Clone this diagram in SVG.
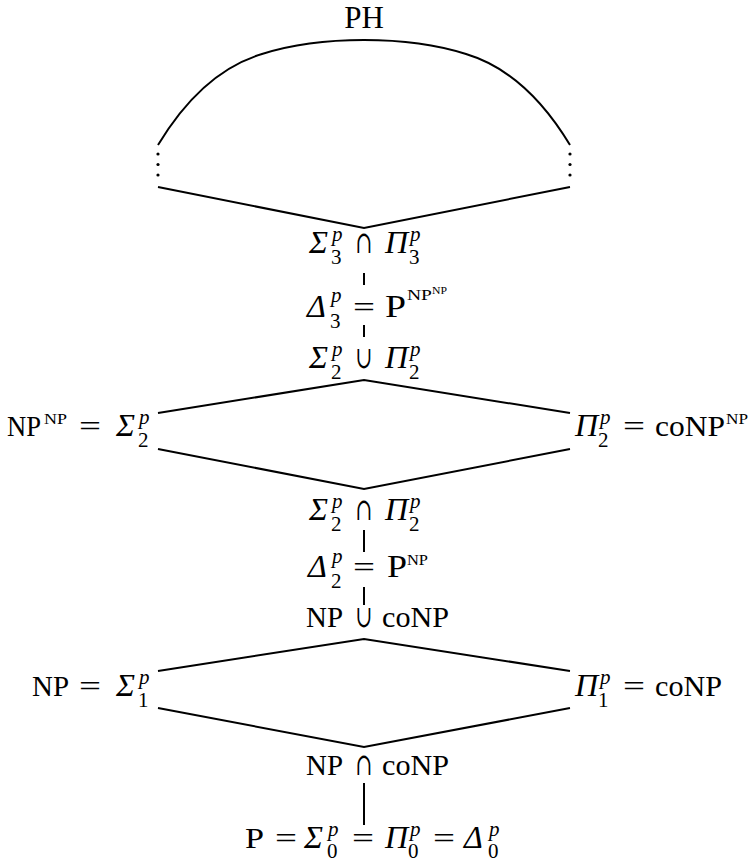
<svg xmlns="http://www.w3.org/2000/svg" width="752" height="862" viewBox="0 0 752 862">
<style>
text{font-family:"Liberation Serif","DejaVu Serif",serif;fill:#000}
.t{font-size:30px}
.b{font-size:32px}
.g{font-size:32px;font-style:italic}
.s{font-size:21px;font-style:italic}
.d{font-size:21px}
.e{font-size:30px}
.o{font-size:31px;font-family:"DejaVu Serif","DejaVu Sans",serif}
.sn{font-size:15px}
.ssn{font-size:10px}
.ln{fill:none;stroke:#000;stroke-width:2}
</style>
<rect width="752" height="862" fill="#fff"/>
<g id="connectors" class="ln">
<path d="M158,145 Q202,72 262,54 Q306,40 364,40 Q422,40 466,54 Q526,72 570,145"/>
<polyline points="158,187 364,228 570,187"/>
<line x1="364" y1="273" x2="364" y2="285"/>
<line x1="364" y1="325" x2="364" y2="337"/>
<polyline points="158,413 364,380 570,413"/>
<polyline points="158,449 364,489 570,449"/>
<line x1="364" y1="530" x2="364" y2="552"/>
<line x1="364" y1="587" x2="364" y2="605"/>
<polyline points="158,671 364,639 570,671"/>
<polyline points="158,708 364,747 570,708"/>
<line x1="364" y1="783" x2="364" y2="825"/>
</g>
<g id="dots" fill="#000">
<circle cx="158" cy="154" r="1.6"/><circle cx="158" cy="164.5" r="1.6"/><circle cx="158" cy="175" r="1.6"/>
<circle cx="570" cy="154" r="1.6"/><circle cx="570" cy="164.5" r="1.6"/><circle cx="570" cy="175" r="1.6"/>
</g>
<g id="ph"><text x="364" y="28" style="font-size:31px;text-anchor:middle">PH</text></g>
<g id="sigma3-cap-pi3">
<text class="g" x="309" y="253">Σ</text><text class="s" x="332" y="241">p</text><text class="d" x="331" y="264">3</text>
<text class="o" x="355.5" y="253" textLength="17" lengthAdjust="spacingAndGlyphs">∩</text>
<text class="g" x="385" y="253">Π</text><text class="s" x="410" y="241">p</text><text class="d" x="409" y="264">3</text>
</g>
<g id="delta3">
<text class="g" x="307" y="317">Δ</text><text class="s" x="331" y="302">p</text><text class="d" x="330" y="328">3</text>
<text class="e" x="353" y="317" textLength="22" lengthAdjust="spacingAndGlyphs">=</text>
<text class="b" x="385" y="317" textLength="21" lengthAdjust="spacingAndGlyphs">P</text>
<text class="sn" x="407" y="300" textLength="25" lengthAdjust="spacingAndGlyphs">NP</text>
<text class="ssn" x="432" y="294" textLength="15" lengthAdjust="spacingAndGlyphs">NP</text>
</g>
<g id="sigma2-cup-pi2">
<text class="g" x="309" y="368">Σ</text><text class="s" x="332" y="356">p</text><text class="d" x="331" y="379">2</text>
<text class="o" x="355.5" y="368" textLength="17" lengthAdjust="spacingAndGlyphs">∪</text>
<text class="g" x="385" y="368">Π</text><text class="s" x="410" y="356">p</text><text class="d" x="409" y="379">2</text>
</g>
<g id="np-np">
<text class="t" x="7" y="436" textLength="34" lengthAdjust="spacingAndGlyphs">NP</text>
<text class="sn" x="44" y="424" textLength="23" lengthAdjust="spacingAndGlyphs">NP</text>
<text class="e" x="79" y="436" textLength="22" lengthAdjust="spacingAndGlyphs">=</text>
<text class="g" x="116" y="436">Σ</text><text class="s" x="139" y="424">p</text><text class="d" x="138" y="447">2</text>
</g>
<g id="conp-np">
<text class="g" x="575" y="436">Π</text><text class="s" x="600" y="424">p</text><text class="d" x="598" y="447">2</text>
<text class="e" x="623" y="436" textLength="22" lengthAdjust="spacingAndGlyphs">=</text>
<text class="t" x="655" y="436" textLength="70" lengthAdjust="spacingAndGlyphs">coNP</text>
<text class="sn" x="726" y="424" textLength="22" lengthAdjust="spacingAndGlyphs">NP</text>
</g>
<g id="sigma2-cap-pi2">
<text class="g" x="309" y="520">Σ</text><text class="s" x="332" y="508">p</text><text class="d" x="331" y="531">2</text>
<text class="o" x="355.5" y="520" textLength="17" lengthAdjust="spacingAndGlyphs">∩</text>
<text class="g" x="385" y="520">Π</text><text class="s" x="410" y="508">p</text><text class="d" x="409" y="531">2</text>
</g>
<g id="delta2">
<text class="g" x="308" y="577">Δ</text><text class="s" x="332" y="563">p</text><text class="d" x="331" y="588">2</text>
<text class="e" x="353" y="577" textLength="22" lengthAdjust="spacingAndGlyphs">=</text>
<text class="b" x="387" y="577" textLength="20" lengthAdjust="spacingAndGlyphs">P</text>
<text class="sn" x="407" y="565" textLength="21" lengthAdjust="spacingAndGlyphs">NP</text>
</g>
<g id="np-cup-conp">
<text class="t" x="306" y="627" textLength="37" lengthAdjust="spacingAndGlyphs">NP</text>
<text class="o" x="355.5" y="627" textLength="17" lengthAdjust="spacingAndGlyphs">∪</text>
<text class="t" x="382" y="627" textLength="67" lengthAdjust="spacingAndGlyphs">coNP</text>
</g>
<g id="np-sigma1">
<text class="t" x="32" y="696" textLength="37" lengthAdjust="spacingAndGlyphs">NP</text>
<text class="e" x="79" y="696" textLength="22" lengthAdjust="spacingAndGlyphs">=</text>
<text class="g" x="116" y="696">Σ</text><text class="s" x="139" y="684">p</text><text class="d" x="138" y="707">1</text>
</g>
<g id="pi1-conp">
<text class="g" x="575" y="696">Π</text><text class="s" x="600" y="684">p</text><text class="d" x="598" y="707">1</text>
<text class="e" x="623" y="696" textLength="22" lengthAdjust="spacingAndGlyphs">=</text>
<text class="t" x="655" y="696" textLength="67" lengthAdjust="spacingAndGlyphs">coNP</text>
</g>
<g id="np-cap-conp">
<text class="t" x="306" y="775" textLength="37" lengthAdjust="spacingAndGlyphs">NP</text>
<text class="o" x="355.5" y="775" textLength="17" lengthAdjust="spacingAndGlyphs">∩</text>
<text class="t" x="382" y="775" textLength="67" lengthAdjust="spacingAndGlyphs">coNP</text>
</g>
<g id="p-level0">
<text class="t" x="245" y="848" textLength="19" lengthAdjust="spacingAndGlyphs">P</text>
<text class="e" x="275" y="848" textLength="22" lengthAdjust="spacingAndGlyphs">=</text>
<text class="g" x="304" y="848">Σ</text><text class="s" x="328" y="836">p</text><text class="d" x="327" y="858">0</text>
<text class="e" x="352" y="848" textLength="22" lengthAdjust="spacingAndGlyphs">=</text>
<text class="g" x="385" y="848">Π</text><text class="s" x="410" y="836">p</text><text class="d" x="408" y="858">0</text>
<text class="e" x="433" y="848" textLength="22" lengthAdjust="spacingAndGlyphs">=</text>
<text class="g" x="464" y="848">Δ</text><text class="s" x="489" y="836">p</text><text class="d" x="488" y="858">0</text>
</g>
</svg>
